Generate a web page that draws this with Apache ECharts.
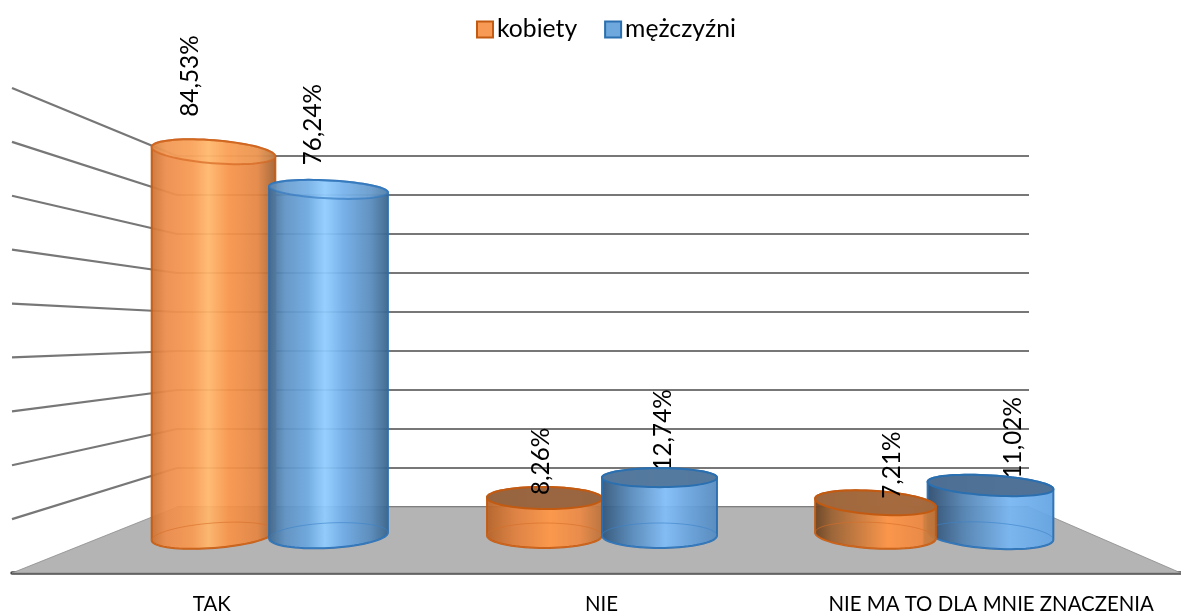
<!DOCTYPE html>
<html>
<head>
<meta charset="utf-8">
<style>html,body{margin:0;padding:0;background:#fff}#c{width:1181px;height:615px}</style>
<script src="https://cdn.jsdelivr.net/npm/echarts@6/dist/echarts.min.js"></script>
</head>
<body>
<div id="c"></div>
<script>
const categories = ['TAK', 'NIE', 'NIE MA TO DLA MNIE ZNACZENIA'];
const kobiety = [84.53, 8.26, 7.21];
const mezczyzni = [76.24, 12.74, 11.02];
const wallTicks = [0, 10, 20, 30, 40, 50, 60, 70, 80, 90];

const FONT = 'Lato, "Open Sans", sans-serif';
const back = {left: 177, width: 852, top: 156, height: 351};
const bars = {left: 105.5, width: 993, top: 126.9, height: 408.6};
const front = {left: 12, width: 1169, top: 88, height: 485};

function grad(stops) {
  return {type: 'linear', x: 0, y: 0, x2: 1, y2: 0,
    colorStops: stops.map(s => ({offset: s[0], color: s[1]}))};
}
const looks = {
  kobiety: {
    stroke: '#c25a12', faint: 'rgba(214,110,40,.6)', labelAbove: true,
    rx: [62, 57.5, 60.5], topRy: [11.5, 11, 11.7], botRy: [12.5, 12.5, 13],
    topTilt: [4.5, 0.5, 4], botTilt: [-4.5, 0, 3], order: [10, 10, 20],
    dx: [-57.5, -57.5, -57.5], labelDx: [-23, -3, 17], labelDy: [35, 3, 4],
    fill: [
      grad([[0,'#c87233'],[.12,'#ed8c4c'],[.33,'#f79a52'],[.46,'#ffb76c'],[.62,'#f7944a'],[.85,'#e48644'],[1,'#9f5f30']]),
      grad([[0,'#b56226'],[.25,'#e0803f'],[.55,'#ff9746'],[.8,'#ec8a46'],[1,'#ba7039']]),
      grad([[0,'#66401f'],[.15,'#9c6232'],[.6,'#ff9445'],[.88,'#ed8842'],[.9,'#d07c3a'],[1,'#c07436']])
    ],
    top: ['rgba(255,190,120,.25)', 'rgba(150,100,65,.97)', 'rgba(160,104,62,.95)'],
    topStroke: ['rgba(210,100,30,.65)', '#c25a12', '#c25a12']
  },
  mezczyzni: {
    stroke: '#2a6fb0', faint: 'rgba(60,130,200,.6)', labelAbove: false,
    rx: [59.5, 57.5, 63], topRy: [9, 9.5, 10], botRy: [12.5, 12.5, 13],
    topTilt: [3, 0, 3.5], botTilt: [-3, 0, 4], order: [20, 20, 10],
    dx: [57.5, 57.5, 57.5], labelDx: [-15, 4, 23], labelDy: [24, 7, 7],
    fill: [
      grad([[0,'#3d688f'],[.14,'#5f92c3'],[.33,'#6ca8e0'],[.47,'#90cdff'],[.62,'#70ade8'],[.85,'#588bbc'],[1,'#386288']]),
      grad([[0,'#2f5377'],[.25,'#5588b9'],[.55,'#80bdf8'],[.8,'#649ed7'],[1,'#5489be']]),
      grad([[0,'#2a486a'],[.3,'#5485b5'],[.65,'#78b6f2'],[1,'#63a3e2']])
    ],
    top: ['rgba(150,205,250,.25)', 'rgba(84,120,156,.97)', 'rgba(78,112,148,.97)'],
    topStroke: ['rgba(50,120,190,.65)', '#2a6fb0', '#2a6fb0']
  }
};

function ellipsePts(cx, cy, rx, ry, deg, t0, t1, n) {
  const th = deg * Math.PI / 180, out = [];
  for (let i = 0; i <= n; i++) {
    const t = t0 + (t1 - t0) * i / n;
    const a = rx * Math.cos(t), b = ry * Math.sin(t);
    out.push([cx + a * Math.cos(th) - b * Math.sin(th), cy + a * Math.sin(th) + b * Math.cos(th)]);
  }
  return out;
}

function cylinder(look) {
  return function (params, api) {
    const i = api.value(0), v = api.value(1);
    const base = api.coord([i, 0]), head = api.coord([i, v]);
    const band = api.size([1, 0])[0];
    const cx = base[0] + look.dx[i] / 331 * band;
    const rx = look.rx[i], z = look.order[i], P = Math.PI;
    const topHalf = ellipsePts(cx, head[1], rx, look.topRy[i], look.topTilt[i], P, 2 * P, 36);
    const botHalf = ellipsePts(cx, base[1], rx, look.botRy[i], look.botTilt[i], 0, P, 36);
    const topFull = ellipsePts(cx, head[1], rx, look.topRy[i], look.topTilt[i], 0, 2 * P, 72);
    const botFull = ellipsePts(cx, base[1], rx, look.botRy[i], look.botTilt[i], 0, 2 * P, 72);
    const children = [
      {type: 'polygon', z2: z, shape: {points: topHalf.concat(botHalf)},
        style: {fill: look.fill[i], stroke: look.stroke, lineWidth: 2, opacity: .94}},
      {type: 'polygon', z2: z + 1, shape: {points: botFull},
        style: {fill: 'none', stroke: look.faint, lineWidth: 1}},
      {type: 'polygon', z2: z + 2, shape: {points: topFull},
        style: {fill: look.top[i], stroke: look.topStroke[i], lineWidth: 2}},
      {type: 'text', z2: look.labelAbove ? 100 : 5,
        x: cx + look.labelDx[i], y: head[1] - look.labelDy[i], rotation: P / 2,
        style: {text: v.toFixed(2).replace('.', ',') + '%', fontSize: 24.3, fontFamily: FONT,
          fill: '#000', align: 'left', verticalAlign: 'middle'}}
    ];
    return {type: 'group', children: children};
  };
}

function wall(params, api) {
  const v = api.value(1);
  const fy = api.coord([0, v])[1];
  const by = back.top + back.height * (1 - v / 90);
  const fx = front.left, bx = back.left;
  if (v === 0) {
    return {type: 'polygon', shape: {points: [[fx, fy], [bx, by], [bx + back.width, by], [fx + front.width, fy]]},
      style: {fill: '#b4b4b4', stroke: '#8a8a8a', lineWidth: 0.8}};
  }
  return {type: 'line', shape: {x1: fx, y1: fy, x2: bx, y2: by},
    style: {stroke: '#777777', lineWidth: 2.2}};
}

const chart = echarts.init(document.getElementById('c'), null, {renderer: 'canvas'});
chart.setOption({
  animation: false,
  backgroundColor: '#fff',
  legend: {
    left: 471, top: 12, itemWidth: 16, itemHeight: 16, itemGap: 27,
    icon: 'rect',
    textStyle: {fontFamily: FONT, fontSize: 24.7, color: '#000', padding: [0, 0, 0, -1]},
    data: [
      {name: 'kobiety', itemStyle: {color: '#f79a55', borderColor: '#c25a12', borderWidth: 2}},
      {name: 'mężczyźni', itemStyle: {color: '#6fa8dc', borderColor: '#2a6fb0', borderWidth: 2}}
    ]
  },
  grid: [
    Object.assign({}, back),
    Object.assign({}, bars),
    Object.assign({}, front)
  ],
  xAxis: [
    {gridIndex: 0, type: 'category', data: categories, show: false},
    {gridIndex: 1, type: 'category', data: categories, show: false},
    {gridIndex: 2, type: 'category', data: categories,
      axisLine: {show: true, lineStyle: {color: '#4a4a4a', width: 3.5}},
      axisTick: {show: false},
      axisLabel: {interval: 0, margin: 21, fontFamily: FONT, fontSize: 20.4, color: '#000', padding: [0, 0, 0, 10]}}
  ],
  yAxis: [
    {gridIndex: 0, type: 'value', min: 0, max: 90, interval: 10,
      axisLine: {show: false}, axisTick: {show: false}, axisLabel: {show: false},
      splitLine: {show: true, lineStyle: {color: '#777777', width: 2}}},
    {gridIndex: 1, type: 'value', min: 0, max: 90, show: false, splitLine: {show: false}},
    {gridIndex: 2, type: 'value', min: 0, max: 90, show: false, splitLine: {show: false}}
  ],
  series: [
    {type: 'custom', name: 'wall', xAxisIndex: 2, yAxisIndex: 2, z: 1, silent: true,
      renderItem: wall, clip: false,
      data: wallTicks.map(t => [0, t]), encode: {x: 0, y: 1}},
    {type: 'custom', name: 'kobiety', xAxisIndex: 1, yAxisIndex: 1, z: 3, clip: false,
      itemStyle: {color: '#f79a55'},
      renderItem: cylinder(looks.kobiety),
      data: kobiety.map((v, i) => [i, v]), encode: {x: 0, y: 1}},
    {type: 'custom', name: 'mężczyźni', xAxisIndex: 1, yAxisIndex: 1, z: 3, clip: false,
      itemStyle: {color: '#6fa8dc'},
      renderItem: cylinder(looks.mezczyzni),
      data: mezczyzni.map((v, i) => [i, v]), encode: {x: 0, y: 1}}
  ]
});
</script>
</body>
</html>
